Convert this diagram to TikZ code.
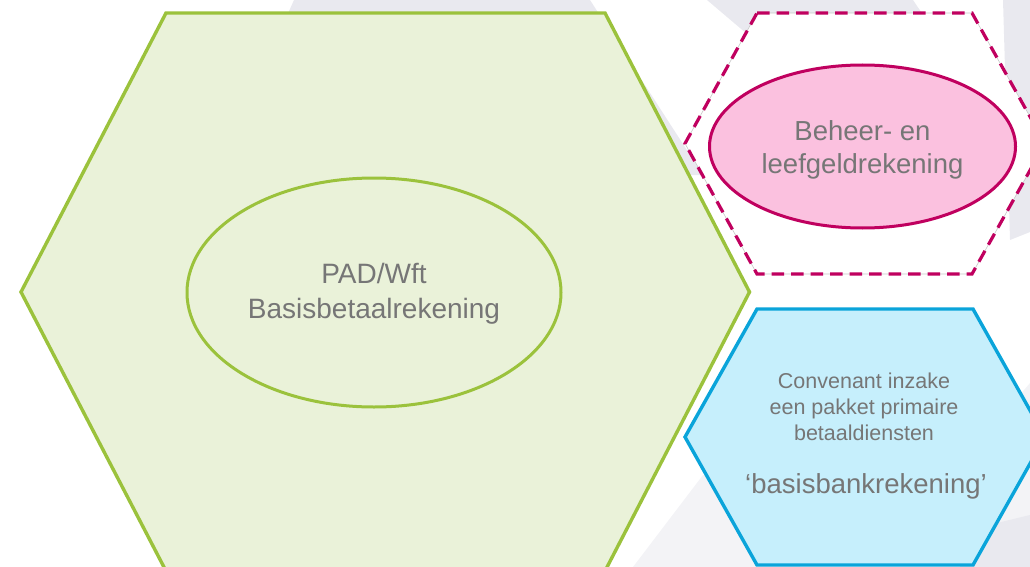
\documentclass[tikz,border=0pt]{standalone}
\usepackage{fontspec}
\setmainfont{Liberation Sans}
\usepackage{tikz}
\usetikzlibrary{shapes.geometric}

\definecolor{padgreen}{HTML}{9BC23C}
\definecolor{padfill}{HTML}{EAF2D9}
\definecolor{beheerred}{HTML}{C0005F}
\definecolor{beheerfill}{HTML}{FBC1DF}
\definecolor{convblue}{HTML}{0AA4DA}
\definecolor{convfill}{HTML}{C6EFFC}
\definecolor{bggrey}{HTML}{E9E9EF}
\definecolor{bglight}{HTML}{F3F3F6}
\definecolor{txtgrey}{HTML}{767676}

\begin{document}
\begin{tikzpicture}[x=1pt,y=-1pt,
    bigtext/.style={text=txtgrey, align=center, font=\fontsize{27.5}{34}\selectfont},
    smalltext/.style={text=txtgrey, align=center, font=\fontsize{21.5}{26}\selectfont}]
        \useasboundingbox (0,0) rectangle (1030,567);
        \clip (0,0) rectangle (1030,567);

        % faint shapes in the background
        \fill[bggrey] (294,0) -- (590,0) -- (703,175) -- (600,175) -- (285,20) -- cycle;
        \fill[bggrey] (707,0) -- (913,0) -- (940,40) -- (760,45) -- cycle;
        \fill[bggrey] (1003,0) -- (1030,0) -- (1030,232) -- (1010,240) -- cycle;
        \fill[bglight] (703,475) -- (633,567) -- (800,567) -- (800,475) -- cycle;
        \fill[bglight] (1030,383) -- (1030,520) -- (990,528) -- (990,430) -- cycle;
        \fill[bggrey] (960,532) -- (1030,515) -- (1030,567) -- (960,567) -- cycle;

        % PAD/Wft
        \draw[padgreen, fill=padfill, line width=3.4pt] (166,13) -- (605,13) -- (749.5,292) -- (605,571) -- (166,571) -- (21,292) -- cycle;
        \node[ellipse, draw=padgreen, fill=padfill, line width=3pt, inner sep=0pt,
              minimum width=374pt, minimum height=229pt] (pad) at (374,292.5) {};
        \node[bigtext, font=\fontsize{28}{35}\selectfont] (padtext) at (374,294) {PAD/Wft\\Basisbetaalrekening};

        % beheer- en leefgeld
        \filldraw[fill=white, draw=gray!45, line width=0.6pt] (757,13) -- (972,13) -- (1045,143.5) -- (972,274) -- (757,274) -- (685,143.5) -- cycle;
        \draw[beheerred, line width=3.2pt, dash pattern=on 12.5pt off 7pt] (757,13) -- (972,13) -- (1045,143.5) -- (972,274) -- (757,274) -- (685,143.5) -- cycle;
        \node[ellipse, draw=beheerred, fill=beheerfill, line width=3pt, inner sep=0pt,
              minimum width=306pt, minimum height=163pt] (beheer) at (862.5,146.5) {};
        \node[bigtext, font=\fontsize{27.5}{33}\selectfont] (beheertext) at (862.5,150) {Beheer- en\\leefgeldrekening};

        % convenant
        \draw[convblue, fill=convfill, line width=3.4pt] (757,309) -- (973,309) -- (1045,437) -- (973,565) -- (757,565) -- (685,437) -- cycle;
        \node[smalltext] (conv) at (864,406.5) {Convenant inzake\\een pakket primaire\\betaaldiensten};
        \node[bigtext] (basis) at (866,486) {‘basisbankrekening’};
\end{tikzpicture}
\end{document}
